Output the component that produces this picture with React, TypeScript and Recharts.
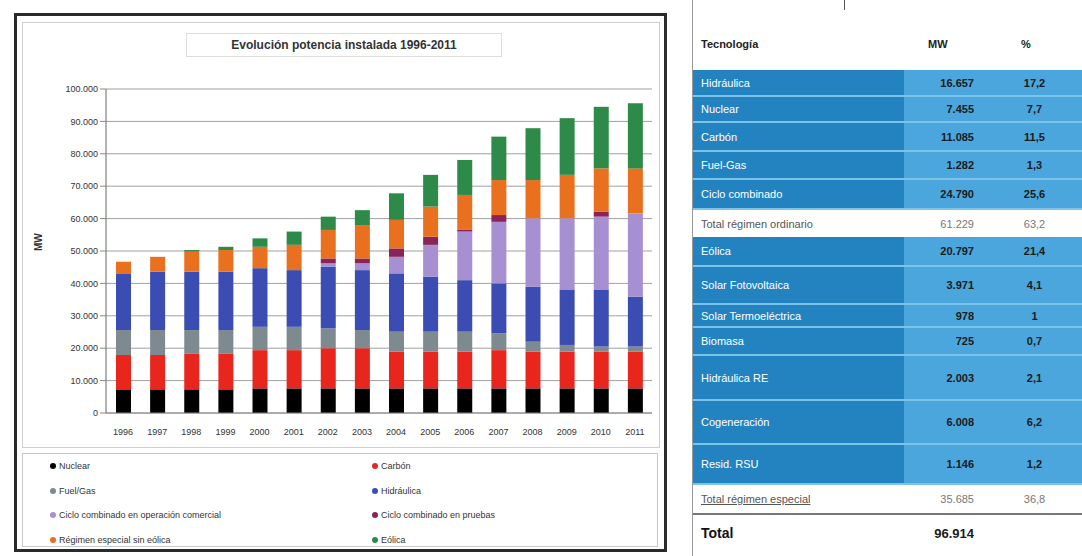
import React from "react";
import { Bar, BarChart, CartesianGrid, Legend, XAxis, YAxis } from "recharts";

const years = ["1996", "1997", "1998", "1999", "2000", "2001", "2002", "2003", "2004", "2005", "2006", "2007", "2008", "2009", "2010", "2011"];

// MW installed per technology
const nuclear = [7300, 7300, 7300, 7300, 7600, 7600, 7600, 7600, 7600, 7600, 7600, 7600, 7600, 7600, 7600, 7600];
const carbon = [10600, 10600, 11100, 11100, 11800, 11800, 12400, 12400, 11300, 11300, 11300, 11800, 11300, 11300, 11300, 11300];
const fuelGas = [7700, 7700, 7200, 7200, 7200, 7200, 6100, 5600, 6200, 6200, 6200, 5200, 3100, 2100, 1600, 1600];
const hidraulica = [17500, 18000, 18000, 18000, 18100, 17500, 19100, 18500, 18000, 17000, 15900, 15400, 17000, 17000, 17500, 15400];
const ccComercial = [0, 0, 0, 0, 0, 0, 1000, 2100, 5100, 9800, 15000, 19000, 21100, 22100, 22600, 25700];
const ccPruebas = [0, 0, 0, 0, 0, 0, 1500, 1500, 2600, 2500, 500, 2100, 0, 0, 1500, 0];
const especialSinEolica = [3600, 4600, 6200, 6700, 6600, 7800, 8800, 10300, 8800, 9300, 10800, 10800, 11800, 13400, 13400, 13900];
const eolica = [0, 0, 500, 1000, 2600, 4100, 4100, 4600, 8200, 9800, 10800, 13400, 16000, 17500, 19000, 20100];

const yTicks = [0, 10000, 20000, 30000, 40000, 50000, 60000, 70000, 80000, 90000, 100000];

const tecnologias = ["Hidráulica", "Nuclear", "Carbón", "Fuel-Gas", "Ciclo combinado", "Total régimen ordinario", "Eólica", "Solar Fotovoltaica", "Solar Termoeléctrica", "Biomasa", "Hidráulica RE", "Cogeneración", "Resid. RSU", "Total régimen especial", "Total"];
const potenciaMW = ["16.657", "7.455", "11.085", "1.282", "24.790", "61.229", "20.797", "3.971", "978", "725", "2.003", "6.008", "1.146", "35.685", "96.914"];
const porcentaje = ["17,2", "7,7", "11,5", "1,3", "25,6", "63,2", "21,4", "4,1", "1", "0,7", "2,1", "6,2", "1,2", "36,8", ""];

const data = years.map((year, i) => ({
  year,
  nuclear: nuclear[i],
  carbon: carbon[i],
  fuelGas: fuelGas[i],
  hidraulica: hidraulica[i],
  ccComercial: ccComercial[i],
  ccPruebas: ccPruebas[i],
  especialSinEolica: especialSinEolica[i],
  eolica: eolica[i],
}));

const series = [
  { key: "nuclear", name: "Nuclear", color: "#000000" },
  { key: "carbon", name: "Carbón", color: "#e8261e" },
  { key: "fuelGas", name: "Fuel/Gas", color: "#7d8a90" },
  { key: "hidraulica", name: "Hidráulica", color: "#3b4db2" },
  { key: "ccComercial", name: "Ciclo combinado en operación comercial", color: "#a690d2" },
  { key: "ccPruebas", name: "Ciclo combinado en pruebas", color: "#8a2357" },
  { key: "especialSinEolica", name: "Régimen especial sin eólica", color: "#e8701e" },
  { key: "eolica", name: "Eólica", color: "#2e8a48" },
];

// row heights of the table on the right, top to bottom
const rowHeights = [27, 26, 29, 28, 30, 27, 30, 38, 23, 28, 45, 44, 40, 30, 36];
const font = "'Liberation Sans', Arial, sans-serif";

const fmt = (v: number) => v.toLocaleString("de-DE");

// legend keeps the series order (row by row, two columns)
function renderLegend() {
  return (
    <div
      style={{
        marginLeft: 5,
        width: 636,
        height: 94,
        border: "1px solid #c8c8c8",
        boxSizing: "border-box",
        display: "grid",
        gridTemplateColumns: "322px 300px",
        gridAutoRows: 24.5,
        paddingLeft: 27,
        fontFamily: font,
        fontSize: 9,
        color: "#333",
      }}
    >
      {series.map((s) => (
        <div key={s.key} style={{ display: "flex", alignItems: "center" }}>
          <span style={{ width: 6, height: 6, background: s.color, borderRadius: 3, marginRight: 3 }} />
          {s.name}
        </div>
      ))}
    </div>
  );
}

function Table() {
  let y = 70;
  return (
    <div style={{ position: "absolute", left: 692, top: 0, width: 390, height: 556, borderLeft: "1px solid #999", fontFamily: font }}>
      <div style={{ position: "absolute", left: 151, top: 0, width: 1, height: 10, background: "#555" }} />
      <div style={{ position: "absolute", top: 38, left: 8, fontSize: 11, fontWeight: "bold", color: "#222" }}>Tecnología</div>
      <div style={{ position: "absolute", top: 38, left: 235, fontSize: 11, fontWeight: "bold", color: "#222" }}>MW</div>
      <div style={{ position: "absolute", top: 38, left: 328, fontSize: 11, fontWeight: "bold", color: "#222" }}>%</div>
      {tecnologias.map((t, i) => {
        const top = y;
        const h = rowHeights[i];
        y += h;
        const isTotal = t.startsWith("Total");
        const isGrand = t === "Total";
        const blue = !isTotal;
        return (
          <div
            key={t}
            style={{
              position: "absolute",
              left: 0,
              top,
              width: 390,
              height: h,
              display: "flex",
              alignItems: "center",
              borderBottom: blue ? "2px solid #7cc3ea" : t === "Total régimen especial" ? "2px solid #777" : "none",
              boxSizing: "border-box",
            }}
          >
            <div
              style={{
                width: 211,
                height: "100%",
                background: blue ? "#2383c0" : "#fff",
                color: blue ? "#fff" : isGrand ? "#111" : "#555",
                fontSize: isGrand ? 14 : 11,
                fontWeight: isGrand ? "bold" : "normal",
                textDecoration: t === "Total régimen especial" ? "underline" : "none",
                display: "flex",
                alignItems: "center",
                paddingLeft: 8,
                boxSizing: "border-box",
              }}
            >
              {t}
            </div>
            <div
              style={{
                width: 70,
                height: "100%",
                background: blue ? "#4aa6dc" : "#fff",
                color: blue || isGrand ? "#1a1a1a" : "#777",
                fontSize: isGrand ? 13 : 11,
                fontWeight: blue || isGrand ? "bold" : "normal",
                display: "flex",
                alignItems: "center",
                justifyContent: "flex-end",
              }}
            >
              {potenciaMW[i]}
            </div>
            <div
              style={{
                width: 109,
                height: "100%",
                background: blue ? "#4aa6dc" : "#fff",
                color: blue ? "#1a1a1a" : "#777",
                fontSize: 11,
                fontWeight: blue ? "bold" : "normal",
                display: "flex",
                alignItems: "center",
                justifyContent: "center",
                paddingLeft: 12,
                boxSizing: "border-box",
              }}
            >
              {porcentaje[i]}
            </div>
          </div>
        );
      })}
    </div>
  );
}

export default function App() {
  return (
    <div style={{ position: "absolute", left: 0, top: 0, width: 1082, height: 556, background: "#fff", overflow: "hidden" }}>
      <div style={{ position: "absolute", left: 14, top: 13, width: 653, height: 539, border: "3px solid #2a2a2a", boxSizing: "border-box" }} />
      <div style={{ position: "absolute", left: 22, top: 22, width: 638, height: 426, border: "1px solid #cfcfcf", boxSizing: "border-box" }} />
      <div
        style={{
          position: "absolute",
          left: 186,
          top: 33,
          width: 314,
          height: 22,
          border: "1px solid #ddd",
          fontFamily: font,
          fontSize: 12,
          fontWeight: "bold",
          color: "#333",
          textAlign: "center",
          lineHeight: "22px",
        }}
      >
        Evolución potencia instalada 1996-2011
      </div>
      <div style={{ position: "absolute", left: 17, top: 17 }}>
        <BarChart width={647} height={532} data={data} margin={{ top: 72, right: 12, bottom: 0, left: 0 }} barSize={15}>
          <CartesianGrid vertical={false} stroke="#a0a0a0" />
          <XAxis
            dataKey="year"
            height={42}
            tickLine={false}
            tickMargin={10}
            axisLine={{ stroke: "#888" }}
            tick={{ fontSize: 9, fill: "#333", fontFamily: font }}
            interval={0}
          />
          <YAxis
            width={89}
            domain={[0, 100000]}
            ticks={yTicks}
            tickFormatter={fmt}
            axisLine={{ stroke: "#666" }}
            tickLine={{ stroke: "#888" }}
            tick={{ fontSize: 9, fill: "#333", fontFamily: font }}
            label={{ value: "MW", angle: -90, position: "insideLeft", offset: 21, style: { fontSize: 10, fontWeight: "bold", fill: "#333", fontFamily: font } }}
          />
          <Legend verticalAlign="bottom" content={renderLegend} wrapperStyle={{ left: 0, width: 647, bottom: 2 }} />
          {series.map((s) => (
            <Bar key={s.key} dataKey={s.key} name={s.name} stackId="mw" fill={s.color} isAnimationActive={false} />
          ))}
        </BarChart>
      </div>
      <Table />
    </div>
  );
}
